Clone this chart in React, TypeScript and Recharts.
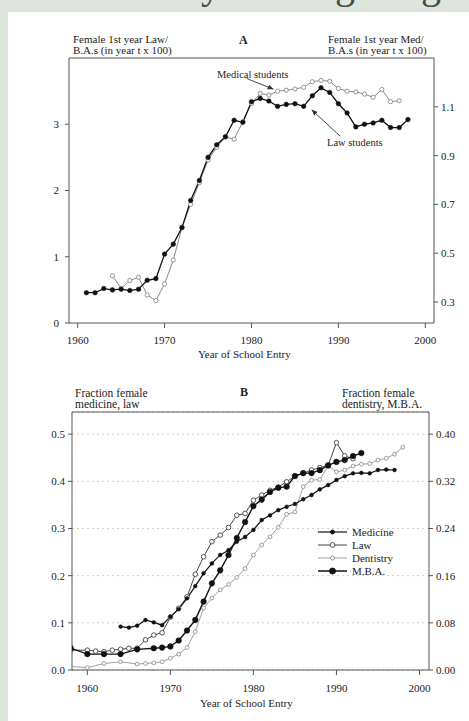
import React from 'react';
import { LineChart, Line, XAxis, YAxis, ReferenceLine, CartesianGrid } from 'recharts';

const SERIF = '"Liberation Serif", "DejaVu Serif", serif';

// ---------- Panel A data ----------
const lawYearsA = [1961, 1962, 1963, 1964, 1965, 1966, 1967, 1968, 1969, 1970, 1971, 1972, 1973, 1974, 1975, 1976, 1977, 1978, 1979, 1980, 1981, 1982, 1983, 1984, 1985, 1986, 1987, 1988, 1989, 1990, 1991, 1992, 1993, 1994, 1995, 1996, 1997, 1998];
const lawA = [0.457, 0.457, 0.52, 0.5, 0.51, 0.49, 0.51, 0.645, 0.67, 1.04, 1.19, 1.44, 1.85, 2.15, 2.5, 2.69, 2.81, 3.06, 3.03, 3.34, 3.39, 3.35, 3.27, 3.3, 3.31, 3.27, 3.43, 3.55, 3.48, 3.31, 3.17, 2.96, 3.0, 3.02, 3.06, 2.95, 2.95, 3.07];
const medYearsA = [1964, 1965, 1966, 1967, 1968, 1969, 1970, 1971, 1972, 1973, 1974, 1975, 1976, 1977, 1978, 1979, 1980, 1981, 1982, 1983, 1984, 1985, 1986, 1987, 1988, 1989, 1990, 1991, 1992, 1993, 1994, 1995, 1996, 1997];
const medA = [0.408, 0.356, 0.388, 0.401, 0.329, 0.306, 0.374, 0.472, 0.606, 0.7, 0.789, 0.882, 0.934, 0.977, 0.967, 1.039, 1.114, 1.155, 1.148, 1.164, 1.168, 1.173, 1.18, 1.203, 1.208, 1.205, 1.175, 1.164, 1.161, 1.152, 1.139, 1.171, 1.121, 1.125];

const xTicks = [1960, 1970, 1980, 1990, 2000];
const leftTicksA = [0, 1, 2, 3];
const rightTicksA = [0.3, 0.5, 0.7, 0.9, 1.1];

// ---------- Panel B data ----------
const medYearsB = [1964, 1965, 1966, 1967, 1968, 1969, 1970, 1971, 1972, 1973, 1974, 1975, 1976, 1977, 1978, 1979, 1980, 1981, 1982, 1983, 1984, 1985, 1986, 1987, 1988, 1989, 1990, 1991, 1992, 1993, 1994, 1995, 1996, 1997];
const medB = [0.092, 0.09, 0.094, 0.106, 0.101, 0.095, 0.113, 0.129, 0.152, 0.178, 0.205, 0.226, 0.244, 0.254, 0.272, 0.282, 0.297, 0.318, 0.328, 0.339, 0.346, 0.352, 0.362, 0.371, 0.383, 0.392, 0.403, 0.411, 0.417, 0.418, 0.417, 0.424, 0.425, 0.424];
const lawYearsB = [1958, 1960, 1961, 1962, 1963, 1964, 1965, 1966, 1967, 1968, 1969, 1970, 1971, 1972, 1973, 1974, 1975, 1976, 1977, 1978, 1979, 1980, 1981, 1982, 1983, 1984, 1985, 1986, 1987, 1988, 1989, 1990, 1991, 1992];
const lawB = [0.042, 0.042, 0.04, 0.039, 0.042, 0.044, 0.046, 0.046, 0.064, 0.074, 0.079, 0.112, 0.131, 0.155, 0.203, 0.24, 0.272, 0.286, 0.302, 0.328, 0.332, 0.36, 0.371, 0.381, 0.388, 0.399, 0.411, 0.417, 0.424, 0.429, 0.434, 0.482, 0.454, 0.448];
const dentYearsB = [1958, 1960, 1962, 1964, 1966, 1967, 1968, 1969, 1970, 1971, 1972, 1973, 1974, 1975, 1976, 1977, 1978, 1979, 1980, 1981, 1982, 1983, 1984, 1985, 1986, 1987, 1988, 1989, 1990, 1991, 1992, 1993, 1994, 1995, 1996, 1997, 1998];
const dentB = [0.006, 0.004, 0.011, 0.014, 0.01, 0.011, 0.012, 0.014, 0.02, 0.027, 0.038, 0.065, 0.105, 0.122, 0.136, 0.145, 0.157, 0.172, 0.195, 0.212, 0.226, 0.242, 0.264, 0.268, 0.311, 0.322, 0.323, 0.346, 0.336, 0.339, 0.346, 0.349, 0.35, 0.356, 0.359, 0.366, 0.378];
const mbaYearsB = [1958, 1960, 1962, 1964, 1966, 1968, 1969, 1970, 1971, 1972, 1973, 1974, 1975, 1976, 1977, 1978, 1979, 1980, 1981, 1982, 1983, 1984, 1985, 1986, 1987, 1988, 1989, 1990, 1991, 1992, 1993];
const mbaB = [0.037, 0.027, 0.027, 0.027, 0.035, 0.037, 0.038, 0.04, 0.05, 0.067, 0.085, 0.116, 0.147, 0.169, 0.195, 0.224, 0.251, 0.278, 0.289, 0.302, 0.309, 0.311, 0.329, 0.334, 0.334, 0.339, 0.347, 0.353, 0.356, 0.363, 0.368];

const leftTicksB = [0, 0.1, 0.2, 0.3, 0.4, 0.5];
const rightTicksB = [0, 0.08, 0.16, 0.24, 0.32, 0.4];
const legendLabels = ['Medicine', 'Law', 'Dentistry', 'M.B.A.'];

type Series = { key: string; years: number[]; values: number[] };
function merge(series: Series[]) {
  const map = new Map<number, any>();
  series.forEach((s) =>
    s.years.forEach((y, i) => {
      const row = map.get(y) ?? { year: y };
      row[s.key] = s.values[i];
      map.set(y, row);
    })
  );
  return Array.from(map.values()).sort((a, b) => a.year - b.year);
}

const dataA = merge([
  { key: 'law', years: lawYearsA, values: lawA },
  { key: 'med', years: medYearsA, values: medA },
]);
const dataB = merge([
  { key: 'medicine', years: medYearsB, values: medB },
  { key: 'law', years: lawYearsB, values: lawB },
  { key: 'dentistry', years: dentYearsB, values: dentB },
  { key: 'mba', years: mbaYearsB, values: mbaB },
]);

const AXIS = '#555';
const tickStyle = { fill: '#222', fontSize: 11, fontFamily: SERIF };

const arrowShape = (p: any) => (
  <line x1={p.x1} y1={p.y1} x2={p.x2} y2={p.y2} stroke="#333" strokeWidth={0.9} markerEnd="url(#arrowHead)" />
);

const txt = (s: React.CSSProperties): React.CSSProperties => ({
  position: 'absolute',
  fontFamily: SERIF,
  color: '#222',
  whiteSpace: 'nowrap',
  lineHeight: '11px',
  ...s,
});

const legendStyles = [
  { stroke: '#111', width: 1.2, r: 2, fill: '#111' },
  { stroke: '#444', width: 1, r: 2.4, fill: '#fff' },
  { stroke: '#888', width: 0.8, r: 2, fill: '#fff' },
  { stroke: '#111', width: 1.5, r: 3, fill: '#111' },
];

export default function App() {
  return (
    <div style={{ position: 'absolute', left: 0, top: 0, width: 469, height: 721, background: '#dde5dc', overflow: 'hidden' }}>
      <svg width={0} height={0} style={{ position: 'absolute' }}>
        <defs>
          <marker id="arrowHead" viewBox="0 0 10 10" refX="9" refY="5" markerWidth="7" markerHeight="7" orient="auto">
            <path d="M0,1 L10,5 L0,9 z" fill="#333" />
          </marker>
        </defs>
      </svg>
      <svg width={469} height={12} style={{ position: 'absolute', left: 0, top: 0, display: 'block' }}>
        <g fontFamily={SERIF} fontSize={40} fill="#4a4a4a">
          <text x={221} y={-2} textAnchor="end">Study</text>
          <text x={355} y={-2} textAnchor="end">Timing</text>
          <text x={441} y={-2} textAnchor="end">long</text>
        </g>
      </svg>
      <div style={{ position: 'absolute', left: 8, top: 12, width: 461, height: 709, background: '#fff' }} />

      {/* Panel A */}
      <div style={{ position: 'absolute', left: 0, top: 0 }}>
        <LineChart width={469} height={380} data={dataA} margin={{ top: 58, right: 0, bottom: 27, left: 0 }}>
          <XAxis dataKey="year" type="number" domain={[1959, 2001]} ticks={xTicks} allowDataOverflow
            height={30} tickSize={5} tickMargin={8} stroke={AXIS} tick={tickStyle} />
          <YAxis yAxisId="left" type="number" domain={[0, 4]} ticks={leftTicksA} allowDataOverflow
            width={69} tickSize={4} tickMargin={6} stroke={AXIS} tick={tickStyle} />
          <YAxis yAxisId="right" orientation="right" type="number" domain={[0.214, 1.3]} ticks={rightTicksA} allowDataOverflow
            width={35} tickSize={4} tickMargin={3} stroke={AXIS} tick={tickStyle} tickFormatter={(v: number) => v.toFixed(1)} />
          <ReferenceLine yAxisId="left" y={4} stroke={AXIS} />
          <Line yAxisId="right" dataKey="med" stroke="#8a8a8a" strokeWidth={1} connectNulls isAnimationActive={false}
            dot={{ r: 2.1, fill: '#fff', stroke: '#8a8a8a', strokeWidth: 0.9 }} />
          <Line yAxisId="left" dataKey="law" stroke="#111" strokeWidth={1.3} connectNulls isAnimationActive={false}
            dot={{ r: 2.3, fill: '#111', stroke: '#111', strokeWidth: 0.5 }} />
          <ReferenceLine yAxisId="left" segment={[{ x: 1979.45, y: 3.69 }, { x: 1982.5, y: 3.53 }]} shape={arrowShape} />
          <ReferenceLine yAxisId="left" segment={[{ x: 1990.2, y: 2.82 }, { x: 1986.95, y: 3.215 }]} shape={arrowShape} />
        </LineChart>
      </div>
      <div style={txt({ left: 73, top: 34, fontSize: 11 })}>Female 1st year Law/<br />B.A.s (in year t x 100)</div>
      <div style={txt({ left: 239, top: 35, fontSize: 12, fontWeight: 'bold' })}>A</div>
      <div style={txt({ left: 328, top: 34, fontSize: 11 })}>Female 1st year Med/<br />B.A.s (in year t x 100)</div>
      <div style={txt({ left: 217, top: 69, fontSize: 10.5 })}>Medical students</div>
      <div style={txt({ left: 327, top: 137, fontSize: 10.5 })}>Law students</div>
      <div style={txt({ left: 198, top: 349, fontSize: 11 })}>Year of School Entry</div>

      {/* Panel B */}
      <div style={{ position: 'absolute', left: 0, top: 380 }}>
        <LineChart width={469} height={341} data={dataB} margin={{ top: 32, right: 0, bottom: 21, left: 0 }}>
          <CartesianGrid yAxisId="left" vertical={false} stroke="#cfcfcf" strokeDasharray="2 3" />
          <XAxis dataKey="year" type="number" domain={[1958.15, 2001.15]} ticks={xTicks} allowDataOverflow
            height={30} tickSize={5} tickMargin={9} stroke={AXIS} tick={tickStyle} />
          <YAxis yAxisId="left" type="number" domain={[0, 0.547]} ticks={leftTicksB} allowDataOverflow
            width={72} tickSize={4} tickMargin={3} stroke={AXIS} tick={tickStyle} tickFormatter={(v: number) => v.toFixed(1)} />
          <YAxis yAxisId="right" orientation="right" type="number" domain={[0, 0.4376]} ticks={rightTicksB} allowDataOverflow
            width={40} tickSize={4} tickMargin={3} stroke={AXIS} tick={tickStyle} tickFormatter={(v: number) => v.toFixed(2)} />
          <ReferenceLine yAxisId="left" y={0.547} stroke={AXIS} />
          <Line yAxisId="right" dataKey="dentistry" stroke="#888" strokeWidth={0.8} connectNulls isAnimationActive={false}
            dot={{ r: 1.9, fill: '#fff', stroke: '#888', strokeWidth: 0.8 }} />
          <Line yAxisId="left" dataKey="law" stroke="#444" strokeWidth={1} connectNulls isAnimationActive={false}
            dot={{ r: 2.3, fill: '#fff', stroke: '#444', strokeWidth: 0.9 }} />
          <Line yAxisId="left" dataKey="medicine" stroke="#111" strokeWidth={1.2} connectNulls isAnimationActive={false}
            dot={{ r: 1.9, fill: '#111', stroke: '#111', strokeWidth: 0.5 }} />
          <Line yAxisId="right" dataKey="mba" stroke="#111" strokeWidth={1.4} connectNulls isAnimationActive={false}
            dot={{ r: 2.8, fill: '#111', stroke: '#111', strokeWidth: 0.5 }} />
        </LineChart>
      </div>
      <div style={txt({ left: 75, top: 388, fontSize: 11.5 })}>Fraction female<br />medicine, law</div>
      <div style={txt({ left: 240, top: 387, fontSize: 12, fontWeight: 'bold' })}>B</div>
      <div style={txt({ left: 342, top: 388, fontSize: 11.5 })}>Fraction female<br />dentistry, M.B.A.</div>
      <div style={{ position: 'absolute', left: 318, top: 526 }}>
        {legendLabels.map((label, i) => {
          const s = legendStyles[i];
          return (
            <div key={label} style={{ display: 'flex', alignItems: 'center', height: 12.9 }}>
              <svg width={30} height={10}>
                <line x1={0} y1={5} x2={29} y2={5} stroke={s.stroke} strokeWidth={s.width} />
                <circle cx={14.5} cy={5} r={s.r} fill={s.fill} stroke={s.stroke} strokeWidth={0.9} />
              </svg>
              <span style={{ fontFamily: SERIF, fontSize: 11, color: '#222', marginLeft: 4, whiteSpace: 'nowrap' }}>{label}</span>
            </div>
          );
        })}
      </div>
      <div style={txt({ left: 200, top: 698, fontSize: 11 })}>Year of School Entry</div>
    </div>
  );
}
